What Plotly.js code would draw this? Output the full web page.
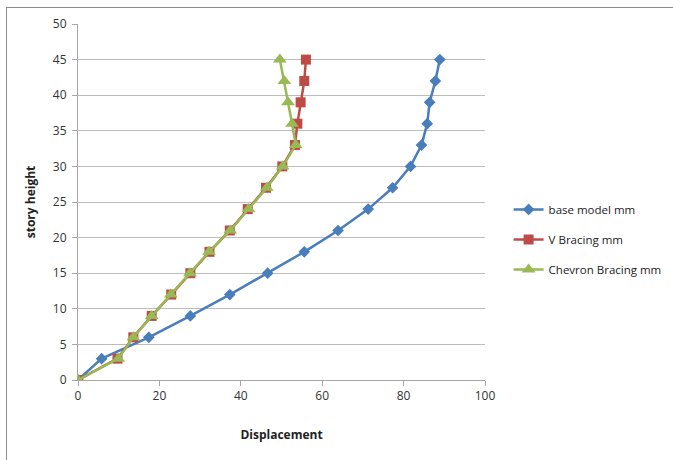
<!DOCTYPE html>
<html>
<head>
<meta charset="utf-8">
<script src="https://cdn.plot.ly/plotly-3.0.1.min.js"></script>
<style>
html,body{margin:0;padding:0;background:#fff;}
#wrap{position:relative;width:673px;height:460px;}
#chart{width:673px;height:460px;}
#frame{position:absolute;left:6px;top:7px;width:700px;height:500px;border-left:1px solid #8c8c8c;border-top:1px solid #8c8c8c;pointer-events:none;}
</style>
</head>
<body>
<div id="wrap"><div id="chart"></div><div id="frame"></div></div>
<script>
const storyHeight = [0, 3, 6, 9, 12, 15, 18, 21, 24, 27, 30, 33, 36, 39, 42, 45];
const baseModel = [0, 5.8, 17.4, 27.6, 37.3, 46.6, 55.6, 63.9, 71.3, 77.3, 81.7, 84.4, 85.8, 86.4, 87.8, 88.9];
const vBracing = [0, 9.7, 13.6, 18.1, 22.9, 27.6, 32.3, 37.3, 41.7, 46.2, 50.2, 53.3, 53.9, 54.7, 55.6, 56.0];
const chevronBracing = [0, 9.9, 13.6, 18.1, 22.8, 27.5, 32.2, 37.4, 41.9, 46.4, 50.3, 53.5, 52.6, 51.6, 50.7, 49.6];
const seriesNames = ['base model mm', 'V Bracing mm', 'Chevron Bracing mm'];

const font = "Open Sans, Noto Sans, sans-serif";
const traces = [
  {x: baseModel, y: storyHeight, name: seriesNames[0], legendgroup: 'a', type: 'scatter', mode: 'lines+markers',
   line: {color: '#4a7ebb', width: 2.5}, marker: {symbol: 'diamond', size: 9, color: '#4a7ebb'}},
  {x: vBracing, y: storyHeight, name: seriesNames[1], legendgroup: 'b', type: 'scatter', mode: 'lines+markers',
   line: {color: '#be4b48', width: 2.5}, marker: {symbol: 'square', size: 10, color: '#be4b48'}},
  {x: chevronBracing, y: storyHeight, name: seriesNames[2], legendgroup: 'c', type: 'scatter', mode: 'lines+markers',
   line: {color: '#98b954', width: 2.5}, marker: {symbol: 'triangle-up', size: 12, color: '#98b954'}}
];
const layout = {
  width: 673, height: 460,
  margin: {l: 78, r: 188, t: 24, b: 80, autoexpand: false},
  paper_bgcolor: '#fff', plot_bgcolor: '#fff',
  font: {family: font, size: 12, color: '#333'},
  showlegend: true,
  legend: {x: 1.058, xanchor: 'left', y: 0.52, yanchor: 'top', traceorder: 'grouped', tracegroupgap: 11,
           font: {family: font, size: 11.5, color: '#222'}, itemwidth: 30, bgcolor: 'rgba(0,0,0,0)'},
  xaxis: {range: [0, 100], tickvals: [0, 20, 40, 60, 80, 100], showgrid: false, zeroline: false,
          showline: true, linecolor: '#a6a6a6', linewidth: 1, ticks: 'outside', ticklen: 5, tickcolor: '#a6a6a6',
          tickfont: {family: font, size: 12, color: '#333'},
          title: {text: '<b>Displacement</b>', font: {family: font, size: 12, color: '#222'}, standoff: 27}},
  yaxis: {range: [0, 50], dtick: 5, showgrid: true, gridcolor: '#bcbcbc', gridwidth: 1, zeroline: false,
          showline: true, linecolor: '#a6a6a6', linewidth: 1, ticks: 'outside', ticklen: 5, tickcolor: '#a6a6a6',
          ticklabelstandoff: 3,
          tickfont: {family: font, size: 12, color: '#333'},
          title: {text: '<b>story height</b>', font: {family: font, size: 12, color: '#222'}, standoff: 14}}
};
Plotly.newPlot('chart', traces, layout, {displayModeBar: false, staticPlot: true});
</script>
</body>
</html>
